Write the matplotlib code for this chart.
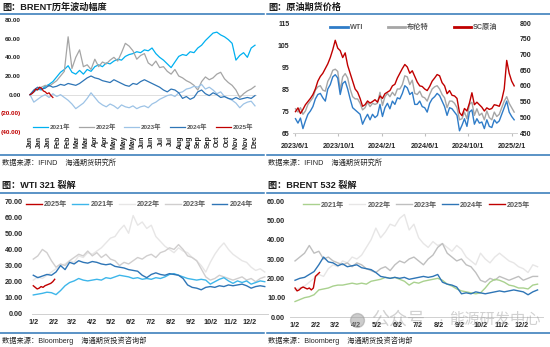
import numpy as np
import pandas as pd
import matplotlib
matplotlib.use('Agg')
import matplotlib.pyplot as plt
from matplotlib.lines import Line2D

plt.rcParams['font.family'] = ['Liberation Sans', 'Noto Sans CJK SC']
plt.rcParams['axes.unicode_minus'] = False

# ---- BRENT yearly change (%), values spread evenly over the year ----
brent_2021 = [0, 3, 6, 5, 9, 11, 14, 19, 24, 27, 31, 24, 22, 26, 22, 27, 25, 30, 32, 30,
              34, 33, 36, 38, 37, 41, 43, 44, 46, 45, 48, 47, 50, 44, 40, 37, 33, 29, 35, 41,
              43, 42, 46, 45, 50, 53, 58, 62, 66, 67, 64, 62, 59, 55, 37, 42, 45, 40, 50, 53]
brent_2022 = [0, 4, 7, 8, 10, 9, 12, 15, 20, 25, 62, 28, 40, 48, 30, 32, 27, 38, 30, 35,
              33, 37, 40, 36, 45, 55, 52, 47, 38, 42, 44, 34, 31, 36, 29, 30, 25, 22, 27, 20,
              18, 15, 13, 10, 5, 14, 19, 16, 18, 22, 24, 17, 13, 10, 5, -3, 1, 4, 6, 9]
brent_2023 = [0, -8, -5, -2, 0, -3, 1, -2, 0, -3, -6, -10, -15, -12, -9, -4, 2, -3, -8, -11,
              -13, -10, -12, -15, -11, -13, -14, -12, -15, -13, -12, -14, -10, -8, -5, -3, -1, 0, -2, 2,
              3, 6, 7, 9, 8, 11, 6, 8, 5, 1, 3, -2, -4, -6, -9, -14, -10, -8, -7, -12]
brent_2024 = [0, 5, 8, 6, 7, 10, 8, 9, 11, 10, 12, 11, 10, 12, 15, 18, 20, 18, 17, 15,
              14, 13, 16, 14, 12, 10, 9, 12, 11, 14, 16, 14, 12, 10, 8, 5, 3, 6, 5, 2,
              -4, -2, -5, -3, 3, 5, 1, -1, 2, 0, -3, -2, -4, -5, -3, -5, -4, -3, -4, -1]
brent_2025 = [0, 1, 3, 6, 5, 8, 7, 4, 3, 1, 2, -1, -3]   # half step of the full years
month_labels = ['Jan', 'Jan', 'Jan', 'Feb', 'Feb', 'Mar', 'Mar', 'Apr', 'Apr', 'May', 'May', 'May',
                'Jun', 'Jun', 'Jul', 'Jul', 'Aug', 'Aug', 'Sep', 'Sep', 'Oct', 'Oct', 'Nov', 'Nov', 'Dec']

# ---- crude futures, weekly closes from 2023-06-02 ----
wti = [71.5, 69.5, 71.8, 67.0, 70.5, 73.5, 75.0, 77.0, 80.5, 82.5, 83.0, 81.0, 79.5,
       85.0, 87.0, 90.5, 91.5, 90.0, 82.5, 87.5, 88.5, 85.0, 80.5, 76.5, 75.5, 74.5,
       73.5, 69.0, 71.5, 73.5, 71.0, 73.5, 72.0, 73.0, 78.0, 72.5, 76.5, 78.5, 76.0,
       79.5, 78.0, 81.0, 80.5, 83.0, 86.5, 85.5, 82.5, 83.5, 78.0, 78.0, 79.5, 77.0, 76.5,
       74.5, 78.5, 80.5, 81.5, 83.0, 82.0, 79.5, 77.0, 73.0, 76.5, 76.0, 74.5, 73.0,
       66.0, 68.5, 71.5, 68.0, 74.5, 75.5, 69.0, 71.5, 69.5, 70.0, 67.0, 71.0, 68.0,
       67.5, 71.0, 69.5, 70.5, 73.5, 76.5, 79.5, 74.5, 72.5, 71.0]
brent = [76.0, 74.5, 76.5, 73.5, 75.0, 78.0, 79.5, 81.0, 84.5, 86.0, 86.5, 84.5, 84.0,
         88.5, 90.5, 93.5, 94.0, 93.0, 84.5, 90.5, 92.0, 90.0, 85.0, 81.5, 80.5, 80.5,
         78.5, 75.5, 76.5, 79.0, 77.0, 78.5, 78.0, 78.5, 83.5, 77.5, 81.5, 83.0, 81.5,
         83.5, 82.0, 85.0, 85.0, 87.0, 91.0, 90.5, 87.0, 89.0, 83.0, 82.5, 84.0, 81.5, 81.0,
         79.5, 82.5, 85.0, 86.0, 86.5, 85.0, 82.5, 81.0, 76.5, 79.5, 79.5, 78.5, 76.5,
         71.0, 71.5, 74.5, 71.5, 78.0, 79.0, 73.0, 76.0, 73.0, 74.0, 71.0, 75.0, 72.0,
         71.0, 74.5, 72.5, 73.5, 76.5, 79.5, 81.5, 78.5, 76.5, 74.5]
sc = [518, 530, 512, 525, 540, 550, 560, 572, 590, 615, 630, 640, 655,
      670, 690, 715, 745, 720, 712, 690, 705, 665, 640, 615, 590, 580,
      560, 535, 540, 552, 545, 550, 556, 548, 568, 560, 575, 580, 585,
      600, 605, 625, 640, 655, 668, 660, 640, 648, 630, 612, 600, 598, 590,
      585, 598, 615, 625, 636, 632, 610, 600, 575, 585, 570, 568, 560,
      515, 505, 528, 520, 545, 578, 540, 548, 540, 532, 520, 530, 525,
      528, 540, 538, 535, 555, 590, 681, 640, 615, 600]
price_ticks = ['2023-06-01', '2023-10-01', '2024-02-01', '2024-06-01', '2024-10-01', '2025-02-01']
price_tick_labels = ['2023/6/1', '2023/10/1', '2024/2/1', '2024/6/1', '2024/10/1', '2025/2/1']

# ---- WTI 3-2-1 crack, weekly from Jan 2 (2025 every 3 days) ----
wti_crack_2021 = [11.8, 12.3, 12.8, 13.5, 13.2, 12.0, 14.5, 17.5, 19.5, 20.5, 22.0, 21.0, 20.5,
                  21.0, 21.5, 21.0, 22.5, 22.0, 23.0, 24.0, 23.5, 23.0, 22.0, 22.5, 21.5, 22.0,
                  21.5, 22.5, 22.0, 23.0, 24.5, 25.0, 24.0, 23.0, 22.0, 21.5, 21.0, 21.5, 21.0,
                  18.5, 20.0, 21.5, 22.5, 20.5, 19.0, 20.5, 19.5, 20.5, 18.5, 19.5, 20.5, 20.0]
wti_crack_2022 = [21, 23, 22, 24, 26, 28, 30, 31, 33, 32, 36, 35, 38, 37, 39, 41, 44, 47, 48, 52,
                  55, 50, 61, 55, 57, 53, 55, 48, 45, 42, 40, 38, 41, 39, 38, 35, 33, 30, 26, 32,
                  37, 41, 44, 40, 37, 35, 33, 32, 29, 27, 28, 26]
wti_crack_2023 = [34, 36, 40, 38, 33, 29, 31, 30, 33, 35, 37, 36, 39, 36, 38, 35, 37, 34, 33, 30,
                  32, 31, 33, 35, 34, 36, 37, 35, 38, 39, 41, 40, 43, 40, 36, 35, 33, 28, 23, 21,
                  22, 24, 23, 22, 21, 22, 23, 21, 22, 20, 22, 23]
wti_crack_2024 = [24, 22.5, 23.5, 24.5, 24, 26, 30, 27.5, 32, 31, 33, 32, 31.5, 32.5, 32, 31,
                  30.5, 31, 29.5, 29, 28.5, 27.5, 27, 26.5, 24, 22.5, 24.5, 25.5, 24.5, 24, 25,
                  24.5, 24, 22, 18, 16.5, 16, 15, 16.5, 17, 16.5, 17.5, 17, 18, 17.5, 18, 18.5,
                  17.5, 16, 17, 17.5, 17]
wti_crack_2025 = [17.5, 16.5, 15.5, 16.0, 17.0, 16.5, 17.5, 18.0, 18.5, 19.0, 20.0, 21.5]

# ---- BRENT 5-3-2 crack ----
brent_crack_2021 = [8, 9, 10, 10.5, 11.5, 14, 14.5, 15, 16, 16.5, 16.5, 17, 17.5, 17, 17.5, 17,
                    18.5, 19, 19.5, 20.5, 20, 20.5, 19.5, 18.5, 16.5, 18, 17.5, 18.5, 19, 19.5,
                    20, 19, 17, 16, 14.5, 13.5, 13, 12.5, 12, 12.5, 15, 18, 19.5, 19, 18, 16.5,
                    16, 15, 15, 14.5, 16.5, 17]
brent_crack_2022 = [14, 15, 16, 18, 20, 22, 21, 25, 27, 26, 29, 28, 31, 30, 32, 36, 40, 46, 41, 44,
                    48, 47, 51, 53, 45, 48, 41, 38, 36, 39, 37, 38, 36, 34, 37, 35, 31, 29, 27, 33,
                    30, 28, 31, 33, 31, 29, 28, 26, 25, 23, 27, 26]
brent_crack_2023 = [29, 31, 33, 37, 33, 34, 30, 31, 29, 28, 27, 28, 26, 28, 27, 25, 24, 23, 25, 26,
                    24, 27, 29, 28, 30, 31, 29, 27, 30, 32, 36, 38, 33, 31, 29, 30, 27, 26, 23, 19,
                    18, 20, 19, 21, 20, 19, 20, 21, 19, 20, 21, 21]
brent_crack_2024 = [19, 20, 20.5, 22, 23.5, 27, 31, 28.5, 28, 26.5, 27.5, 26, 26.5, 27, 25.5, 25,
                    24.5, 23, 21, 20.5, 20, 20.5, 20, 20.5, 19.5, 20, 20.5, 21, 20.5, 21, 22, 18,
                    17, 16.5, 15.5, 12, 12.5, 12, 13, 12.5, 12, 12.5, 13, 13.5, 13, 13.5, 14, 13.5,
                    13, 11.5, 13, 14]
brent_crack_2025 = [15, 13.5, 14, 15, 15.5, 15, 14.5, 15, 14, 15, 21, 22, 23]
crack_tick_labels = ['%d/2' % m for m in range(1, 13)]

W, H = 550, 347
BLUE = '#2E75B6'
RED = '#C00000'
TXT = '#262626'


def fx(px):
    return px / W


def fy(py):
    return 1 - py / H


def place(fig, left, top, right, bottom):
    return fig.add_axes([fx(left), fy(bottom), (right - left) / W, (bottom - top) / H])


def hline(fig, y, x0, x1):
    fig.add_artist(Line2D([fx(x0), fx(x1)], [fy(y), fy(y)], transform=fig.transFigure,
                          color=BLUE, lw=1.1))


def bold_ticks(ax, size):
    ax.tick_params(length=0, labelsize=size, colors=TXT)
    for t in ax.get_xticklabels() + ax.get_yticklabels():
        t.set_fontweight('bold')


def clean(ax, bottom=True):
    for s in ('top', 'right', 'left'):
        ax.spines[s].set_visible(False)
    ax.spines['bottom'].set_visible(bottom)
    ax.spines['bottom'].set_color('#D0D0D0')
    ax.spines['bottom'].set_linewidth(0.7)
    ax.patch.set_alpha(0)


def legend(ax, anchor, ncol, size, spacing=0.7, hlen=2.2, **kw):
    leg = ax.legend(loc='center', bbox_to_anchor=anchor, ncol=ncol, frameon=False,
                    fontsize=size, handlelength=hlen, handletextpad=0.3, columnspacing=spacing,
                    borderpad=0, **kw)
    for t in leg.get_texts():
        t.set_color('#595959')
        t.set_fontweight('bold')
    return leg


def panel_brent_change(fig):
    ax = place(fig, 29, 20, 257, 132)
    step = 1 / (len(brent_2021) - 1)
    series = [('2021年', brent_2021, '#00B0F0', step), ('2022年', brent_2022, '#A5A5A5', step),
              ('2023年', brent_2023, '#9DC3E6', step), ('2024年', brent_2024, BLUE, step),
              ('2025年', brent_2025, RED, step / 2)]
    for name, vals, color, st in series:
        ax.plot(np.arange(len(vals)) * st, vals, color=color, lw=0.9, label=name)
    ax.axhline(0, color='#D9D9D9', lw=0.6, zorder=0)
    ax.set_ylim(-40, 80)
    ax.set_xlim(-1 / 225, 1 + 2 / 225)
    ax.set_yticks(range(-40, 81, 20))
    ax.set_yticklabels(['(%.2f)' % -v if v < 0 else '%.2f' % v for v in range(-40, 81, 20)])
    ax.set_xticks(np.linspace(0, 1, len(month_labels)))
    ax.set_xticklabels(month_labels, rotation=90, va='top')
    clean(ax, bottom=False)
    bold_ticks(ax, 4.6)
    ax.tick_params(axis='y', pad=6)
    ax.tick_params(axis='x', pad=2.5, labelsize=5)
    for t, v in zip(ax.get_yticklabels(), range(-40, 81, 20)):
        if v < 0:
            t.set_color(RED)
    legend(ax, (0.5, 0.045), 5, 4.6, spacing=1.3, hlen=2.35)


def panel_prices(fig):
    ax = place(fig, 293, 23, 517, 133)
    ax2 = ax.twinx()
    dates = pd.date_range('2023-06-02', periods=len(wti), freq='W-FRI')
    h1, = ax.plot(dates, wti, color='#2F7CC8', lw=1.0, label='WTI', zorder=3)
    h2, = ax.plot(dates, brent, color='#A6A6A6', lw=1.0, label='布伦特', zorder=2)
    h3, = ax2.plot(dates, sc, color=RED, lw=1.0, label='SC原油')
    ax.set_ylim(65, 115)
    ax2.set_ylim(450, 800)
    ax.set_yticks(range(65, 116, 10))
    ax2.set_yticks(range(450, 801, 50))
    ax.set_xlim(pd.Timestamp('2023-05-26'), pd.Timestamp('2025-02-15'))
    ax.set_xticks(pd.to_datetime(price_ticks))
    ax.set_xticklabels(price_tick_labels)
    clean(ax)
    clean(ax2, bottom=False)
    bold_ticks(ax, 5)
    bold_ticks(ax2, 5)
    ax.tick_params(axis='y', pad=2.5)
    ax.tick_params(axis='x', pad=5, labelsize=5.2)
    ax2.tick_params(axis='y', pad=2)
    ax.tick_params(axis='x', length=2, color='#BFBFBF', direction='out')
    leg = legend(ax, (0.54, 0.955), 3, 5.2, spacing=3.4, hlen=2.4, handles=[h1, h2, h3])
    for h in leg.legend_handles:
        h.set_linewidth(2.0)


def panel_crack(fig, box, ylim, series):
    ax = place(fig, *box)
    for name, vals, color, step, z in series:
        ax.plot(np.arange(len(vals)) * step, vals, color=color, lw=1.0, label=name, zorder=z)
    ax.set_ylim(0, ylim)
    ax.set_yticks(range(0, ylim + 1, 10))
    ax.set_yticklabels(['%.2f' % v for v in range(0, ylim + 1, 10)])
    ticks = [(pd.Timestamp(2023, m, 2) - pd.Timestamp(2023, 1, 2)).days for m in range(1, 13)]
    ax.set_xticks(ticks)
    ax.set_xticklabels(crack_tick_labels)
    clean(ax)
    bold_ticks(ax, 5.2)
    ax.tick_params(axis='x', pad=3.5)
    return ax


def main():
    fig = plt.figure(figsize=(W / 100, H / 100), dpi=100)

    title_kw = dict(fontsize=6.6, fontweight='bold', color='#1A1A1A', va='center', ha='left')
    src_kw = dict(fontsize=5.2, color='#262626', va='center', ha='left')

    fig.text(fx(2), fy(7), '图：BRENT历年波动幅度', **title_kw)
    fig.text(fx(268), fy(7), '图：原油期货价格', **title_kw)
    fig.text(fx(2), fy(185), '图：WTI 321 裂解', **title_kw)
    fig.text(fx(268), fy(185), '图：BRENT 532 裂解', **title_kw)
    fig.text(fx(2), fy(163), '数据来源：IFIND    海通期货研究所', **src_kw)
    fig.text(fx(268), fy(163), '数据来源：IFIND    海通期货研究所', **src_kw)
    fig.text(fx(2), fy(341), '数据来源：Bloomberg    海通期货投资咨询部', **src_kw)
    fig.text(fx(268), fy(341), '数据来源：Bloomberg    海通期货投资咨询部', **src_kw)

    for y in (13.5, 155, 193, 333):
        hline(fig, y, 0, 264)
        hline(fig, y, 267, 550)

    panel_brent_change(fig)
    panel_prices(fig)

    ax = panel_crack(fig, (32, 201, 268, 314), 70, [
        ('2025年', wti_crack_2025, RED, 3, 6),
        ('2021年', wti_crack_2021, '#3DB6EA', 7, 4),
        ('2022年', wti_crack_2022, '#E7E6E6', 7, 2),
        ('2023年', wti_crack_2023, '#D0CECE', 7, 3),
        ('2024年', wti_crack_2024, BLUE, 7, 5)])
    ax.set_xlim(-2, 362)
    ax.tick_params(axis='y', pad=6.5)
    legend(ax, (0.455, 0.965), 5, 5.2)

    ax = panel_crack(fig, (290, 201, 543, 317), 60, [
        ('2021年', brent_crack_2021, '#A9D18E', 7, 3),
        ('2022年', brent_crack_2022, '#E7E6E6', 7, 1),
        ('2023年', brent_crack_2023, '#BFBFBF', 7, 2),
        ('2024年', brent_crack_2024, BLUE, 7, 5),
        ('2025年', brent_crack_2025, RED, 3, 6)])
    ax.set_xlim(-7.4, 365)
    ax.tick_params(axis='y', pad=3.5)
    legend(ax, (0.5, 0.965), 5, 5.2)

    # faint account mark over the lower right panel
    mark = dict(color='#9A9A9A', alpha=0.45, va='center', ha='left')
    fig.add_artist(Line2D([fx(357)], [fy(320)], transform=fig.transFigure, marker='o',
                          markersize=10, color='#9A9A9A', alpha=0.5, lw=0))
    fig.text(fx(371), fy(320), '公众号', fontsize=13, **mark)
    fig.text(fx(438), fy(320), '·', fontsize=11, **mark)
    fig.text(fx(449), fy(320), '能源研发中心', fontsize=11, **mark)

    fig.savefig('out.png', dpi=100)
    plt.close('all')


if __name__ == '__main__':
    main()
